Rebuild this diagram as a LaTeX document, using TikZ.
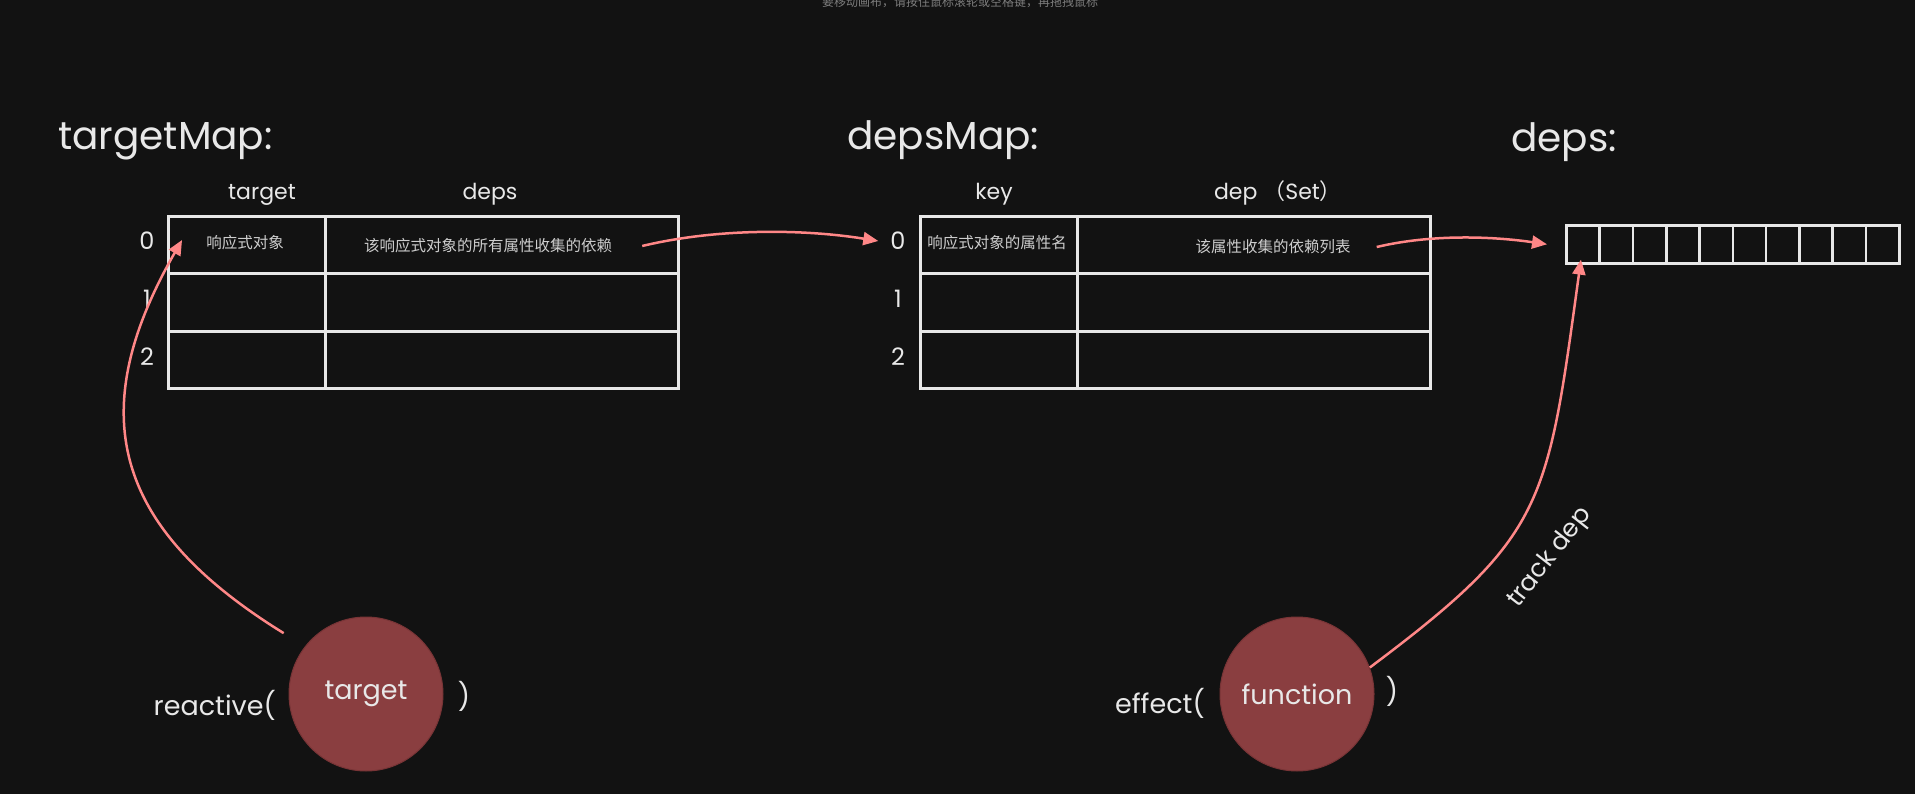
\documentclass[tikz,border=0pt]{standalone}
\usepackage{fontspec}
\setmainfont{Poppins}
\newfontfamily\cjk{Noto Sans CJK SC}
\usetikzlibrary{arrows.meta}
\definecolor{board}{RGB}{18,18,18}
\definecolor{chalk}{RGB}{232,232,232}
\definecolor{soft}{RGB}{205,205,205}
\definecolor{hintgray}{RGB}{125,125,125}
\definecolor{linkred}{RGB}{255,135,135}
\definecolor{ballred}{RGB}{138,62,64}
\definecolor{balledge}{RGB}{120,52,54}

\begin{document}
\begin{tikzpicture}[x=1pt, y=-1pt,
  cell/.style={draw=chalk, line width=3pt, anchor=north west, minimum height=57.3pt, inner sep=0pt},
  slot/.style={draw=chalk, line width=2.6pt, anchor=north west, minimum width=33.3pt, minimum height=38pt, inner sep=0pt},
  title/.style={text=chalk, font=\fontsize{39}{41}\selectfont, anchor=base west, inner sep=1pt},
  head/.style={text=chalk, font=\fontsize{22}{24}\selectfont, anchor=base, inner sep=1pt},
  call/.style={text=chalk, font=\fontsize{27}{29}\selectfont, inner sep=1pt},
  idx/.style={text=chalk, font=\fontsize{24}{26}\selectfont, inner sep=2pt},
  note/.style={text=soft, font=\cjk\fontsize{15.5}{17}\selectfont, inner sep=2pt},
  ball/.style={circle, fill=ballred, draw=balledge, line width=1pt, minimum size=154pt, inner sep=0pt, text=chalk, font=\fontsize{27}{29}\selectfont},
  arr/.style={-{Triangle[length=15pt,width=13pt]}, draw=linkred, line width=2.5pt},
]
\useasboundingbox (0,0) rectangle (1915,794);
\fill[board] (0,0) rectangle (1915,794);
\node[text=hintgray, font=\cjk\fontsize{12}{13}\selectfont] (hint) at (960,2) {要移动画布，请按住鼠标滚轮或空格键，再拖拽鼠标};

\node[title] (tmap) at (57,150) {targetMap:};
\node[title] (dmap) at (846,150) {depsMap:};
\node[title] (dlist) at (1510,152) {deps:};

\node[head] (th1) at (262,200) {target};
\node[head] (th2) at (490,200) {deps};
\node[head] (dh1) at (994,200) {key};
\node[head] (dh2) at (1278,200) {dep {\cjk （}Set{\cjk ）}};

\foreach \r in {0,1,2} {
  \node[cell, minimum width=157pt] (tk\r) at (167,{215+57.3*\r}) {};
  \node[cell, minimum width=353pt] (tv\r) at (324,{215+57.3*\r}) {};
  \node[cell, minimum width=157pt] (dk\r) at (919,{215+57.3*\r}) {};
  \node[cell, minimum width=353pt] (dv\r) at (1076,{215+57.3*\r}) {};
  \node[idx] (ti\r) at (147,{241+58*\r}) {\r};
  \node[idx] (di\r) at (898,{241+58*\r}) {\r};
}
\foreach \i in {1,...,10}
  \node[slot] (c\i) at ({1565+33.3*(\i-1)},224) {};

\node[note] (tt0) at (245,243) {响应式对象};
\node[note] (td0) at (488,246) {该响应式对象的所有属性收集的依赖};
\node[note] (dt0) at (997,243) {响应式对象的属性名};
\node[note] (dd0) at (1273,247) {该属性收集的依赖列表};

\node[ball] (rx) at (366,694) {target};
\node[ball] (fn) at (1297,694) {function};
\node[call, anchor=base east] (rcall) at (277,715) {reactive(};
\node[call] (rclose) at (464,696) {)};
\node[call, anchor=base east] (ecall) at (1206,713) {effect(};
\node[call] (eclose) at (1392,691) {)};
\node[head, anchor=center, rotate=52, font=\fontsize{25}{27}\selectfont] (track) at (1550,558) {track dep};

\draw[arr] ([xshift=28pt]td0.east) .. controls +(75,-18) and +(-75,-12) .. ([xshift=-10pt]di0.west);
\draw[arr] ([xshift=24pt]dd0.east) .. controls +(55,-13) and +(-55,-8) .. ([xshift=-18pt]c1.west);
\draw[arr] (fn.20) .. controls +(176,-132) and +(-34,247) .. ([shift={(-2,-5)}]c1.south);
\draw[arr, shorten <=25pt] (rx.142) .. controls +(-191,-118) and +(-100,174) .. ([shift={(-22,-3)}]tt0.west);
\end{tikzpicture}
\end{document}
